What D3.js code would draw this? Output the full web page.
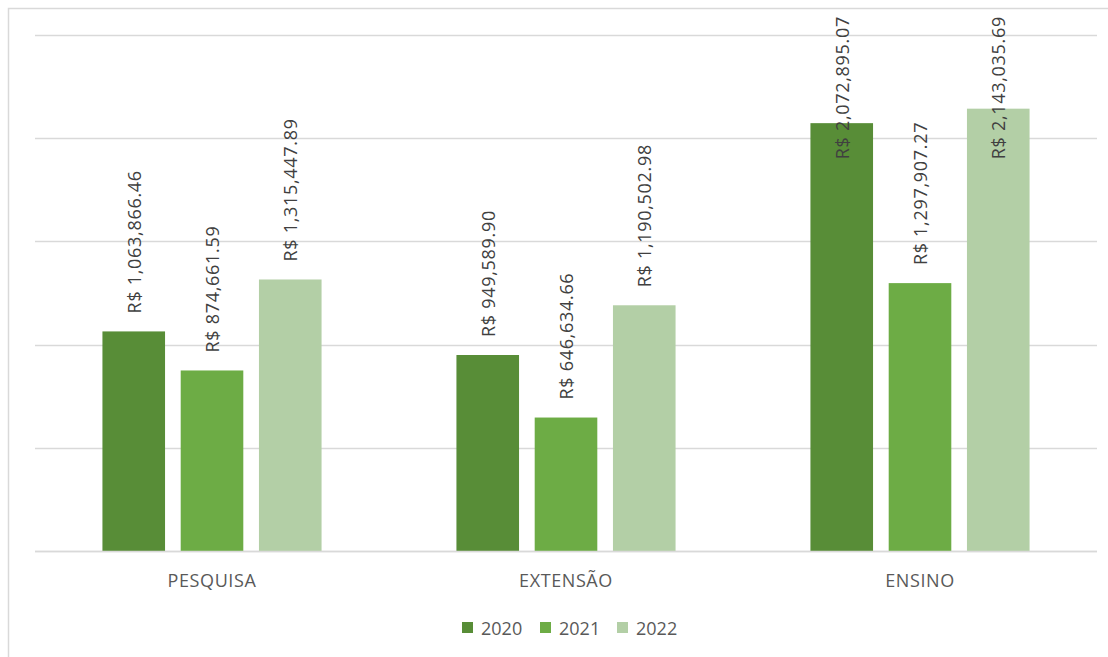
<!DOCTYPE html>
<html><head><meta charset="utf-8">
<script src="https://cdn.jsdelivr.net/npm/d3@7"></script>
<style>
html,body{margin:0;padding:0;background:#fff;}
svg{display:block;font-family:"Open Sans","Noto Sans",sans-serif;}
</style></head>
<body>
<svg id="chart" width="1108" height="657"></svg>
<script>
const categories = ["PESQUISA", "EXTENSÃO", "ENSINO"];
const seriesNames = ["2020", "2021", "2022"];
const values2020 = [1063866.46, 949589.90, 2072895.07];
const values2021 = [874661.59, 646634.66, 1297907.27];
const values2022 = [1315447.89, 1190502.98, 2143035.69];
const yTicks = [0, 500000, 1000000, 1500000, 2000000, 2500000];
const colors = ["#588d37", "#6dac45", "#b3cfa6"];

(function () {
const seriesValues = [values2020, values2021, values2022];
const data = categories.map((c, i) => ({
  cat: c,
  vals: seriesNames.map((s, j) => ({ key: s, value: seriesValues[j][i], idx: j }))
}));

const svg = d3.select("#chart");
const mLeft = 35, mRight = 1097, mTop = 35, mBottom = 551;

// outer border
svg.append("rect").attr("x", 8.5).attr("y", 8.5).attr("width", 1110).attr("height", 660)
  .attr("fill", "none").attr("stroke", "#d9d9d9").attr("stroke-width", 1.5);

const y = d3.scaleLinear().domain([0, 2500000]).range([mBottom, mTop]);
const x0 = d3.scaleBand().domain(categories).range([mLeft, mRight]).paddingInner(0.381).paddingOuter(0.1905);
const x1 = d3.scaleBand().domain(seriesNames).range([0, x0.bandwidth()]).paddingInner(0.2).paddingOuter(0);
const color = d3.scaleOrdinal().domain(seriesNames).range(colors);

// gridlines
svg.append("g").selectAll("line").data(yTicks).join("line")
  .attr("x1", mLeft).attr("x2", mRight)
  .attr("y1", d => Math.round(y(d)) + 0.5).attr("y2", d => Math.round(y(d)) + 0.5)
  .attr("stroke", "#d9d9d9").attr("stroke-width", 1.5);

// bars
const groups = svg.append("g").selectAll("g").data(data).join("g")
  .attr("transform", d => `translate(${x0(d.cat)},0)`);
groups.selectAll("rect").data(d => d.vals).join("rect")
  .attr("x", d => x1(d.key)).attr("width", x1.bandwidth())
  .attr("y", d => y(d.value)).attr("height", d => y(0) - y(d.value))
  .attr("fill", d => color(d.key));

// baseline redraw on top
svg.append("line").attr("x1", mLeft).attr("x2", mRight)
  .attr("y1", Math.round(y(0)) + 0.5).attr("y2", Math.round(y(0)) + 0.5)
  .attr("stroke", "#d9d9d9").attr("stroke-width", 1.5);

// data labels
const fmt = v => "R$ " + d3.format(",.2f")(v);
groups.each(function(d) {
  const g = d3.select(this);
  d.vals.forEach(v => {
    const cx = x1(v.key) + x1.bandwidth() / 2;
    const t = g.append("text")
      .attr("font-size", 18).attr("letter-spacing", 0.7).attr("fill", "#404040")
      .attr("dominant-baseline", "central")
      .text(fmt(v.value));
    const len = t.node().getComputedTextLength();
    const startY = y(v.value) - 18;
    if (startY - len < 16) {
      t.attr("text-anchor", "end").attr("transform", `translate(${cx},16) rotate(-90)`);
    } else {
      t.attr("text-anchor", "start").attr("transform", `translate(${cx},${startY}) rotate(-90)`);
    }
  });
});

// category axis labels
svg.append("g").selectAll("text").data(categories).join("text")
  .attr("x", d => x0(d) + x0.bandwidth() / 2).attr("y", 580)
  .attr("text-anchor", "middle").attr("dominant-baseline", "central")
  .attr("font-size", 18).attr("letter-spacing", 0.6).attr("fill", "#595959").text(d => d);

// legend
const legendX = [462, 540, 617];
const lg = svg.append("g").selectAll("g").data(seriesNames).join("g")
  .attr("transform", (d, i) => `translate(${legendX[i]},628)`);
lg.append("rect").attr("x", 0).attr("y", -6).attr("width", 11).attr("height", 11)
  .attr("fill", d => color(d));
lg.append("text").attr("x", 19).attr("y", 0).attr("dominant-baseline", "central")
  .attr("font-size", 18).attr("fill", "#595959").text(d => d);
})();
</script>
</body></html>
